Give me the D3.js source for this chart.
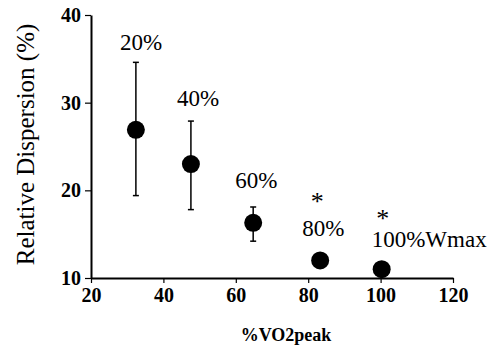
<!DOCTYPE html>
<html>
<head>
<meta charset="utf-8">
<script src="https://cdn.jsdelivr.net/npm/d3@7"></script>
<style>
  body { margin: 0; background: #fff; }
  svg text { font-family: "Liberation Serif", "Times New Roman", Times, serif; }
</style>
</head>
<body>
<div id="chart"></div>
<script>
// data
const intensity = ["20%", "40%", "60%", "80%", "100%Wmax"];
const vo2peak = [32.4, 47.6, 64.8, 83.3, 100.3];
const dispersion = [26.9, 23.0, 16.3, 12.0, 11.0];
const errHigh = [34.6, 27.9, 18.1, null, null];
const errLow = [19.4, 17.8, 14.2, null, null];
const significant = [false, false, false, true, true];
const xTicks = [20, 40, 60, 80, 100, 120];
const yTicks = [10, 20, 30, 40];

const width = 490, height = 346;
const margin = { top: 15, right: 37, bottom: 68, left: 91 };
const serif = "'Liberation Serif', 'Times New Roman', serif";

const svg = d3.select("#chart")
  .append("svg")
  .attr("width", width)
  .attr("height", height);

const x = d3.scaleLinear().domain([20, 120]).range([margin.left, width - margin.right]);
const y = d3.scaleLinear().domain([10, 40]).range([height - margin.bottom, margin.top]);

// axes
const xAxis = svg.append("g")
  .attr("transform", `translate(0,${y(10)})`)
  .call(d3.axisBottom(x).tickValues(xTicks).tickSize(5).tickPadding(5).tickSizeOuter(0));

const yAxis = svg.append("g")
  .attr("transform", `translate(${x(20)},0)`)
  .call(d3.axisLeft(y).tickValues(yTicks).tickSize(6).tickPadding(4).tickSizeOuter(0));

[xAxis, yAxis].forEach(a => {
  a.attr("font-family", serif).attr("font-size", 20);
  a.select(".domain").attr("stroke", "#000").attr("stroke-width", 2);
  a.selectAll(".tick line").attr("stroke", "#000").attr("stroke-width", 1.2);
  a.selectAll(".tick text")
    .attr("fill", "#000")
    .style("font-size", "20px")
    .style("font-weight", "bold")
    .style("font-family", serif);
});

// axis titles
svg.append("text")
  .attr("transform", `translate(34,${(y(10) + y(40)) / 2 - 2}) rotate(-90)`)
  .attr("text-anchor", "middle")
  .style("font-size", "25px")
  .text("Relative Dispersion (%)");

svg.append("text")
  .attr("x", 286)
  .attr("y", 341)
  .attr("text-anchor", "middle")
  .style("font-size", "18px")
  .style("font-weight", "bold")
  .text("%VO2peak");

const pts = intensity.map((lab, i) => ({
  lab, x: vo2peak[i], y: dispersion[i], hi: errHigh[i], lo: errLow[i], sig: significant[i]
}));

// error bars
const eb = svg.append("g").selectAll("g")
  .data(pts.filter(d => d.hi !== null))
  .enter().append("g")
  .attr("stroke", "#000")
  .attr("stroke-width", 1.5);
eb.append("line")
  .attr("x1", d => x(d.x)).attr("x2", d => x(d.x))
  .attr("y1", d => y(d.hi)).attr("y2", d => y(d.lo));
eb.append("line")
  .attr("x1", d => x(d.x) - 3).attr("x2", d => x(d.x) + 3)
  .attr("y1", d => y(d.hi)).attr("y2", d => y(d.hi));
eb.append("line")
  .attr("x1", d => x(d.x) - 3).attr("x2", d => x(d.x) + 3)
  .attr("y1", d => y(d.lo)).attr("y2", d => y(d.lo));

// points
svg.append("g").selectAll("circle")
  .data(pts)
  .enter().append("circle")
  .attr("cx", d => x(d.x))
  .attr("cy", d => y(d.y))
  .attr("r", 9)
  .attr("fill", "#000");

// intensity labels, placed relative to each point
const labelDx = [-16, -14, -18, -18, -10];
const labelDy = [-80, -58, -35, -24, -22];
svg.append("g").selectAll("text")
  .data(pts)
  .enter().append("text")
  .attr("x", (d, i) => x(d.x) + labelDx[i])
  .attr("y", (d, i) => y(d.y) + labelDy[i])
  .style("font-size", "23px")
  .text(d => d.lab);

// significance stars
const starDx = [-3, 1];
const starDy = [-50, -42];
svg.append("g").selectAll("text")
  .data(pts.filter(d => d.sig))
  .enter().append("text")
  .attr("x", (d, i) => x(d.x) + starDx[i])
  .attr("y", (d, i) => y(d.y) + starDy[i])
  .attr("text-anchor", "middle")
  .style("font-size", "26px")
  .text("*");
</script>
</body>
</html>
